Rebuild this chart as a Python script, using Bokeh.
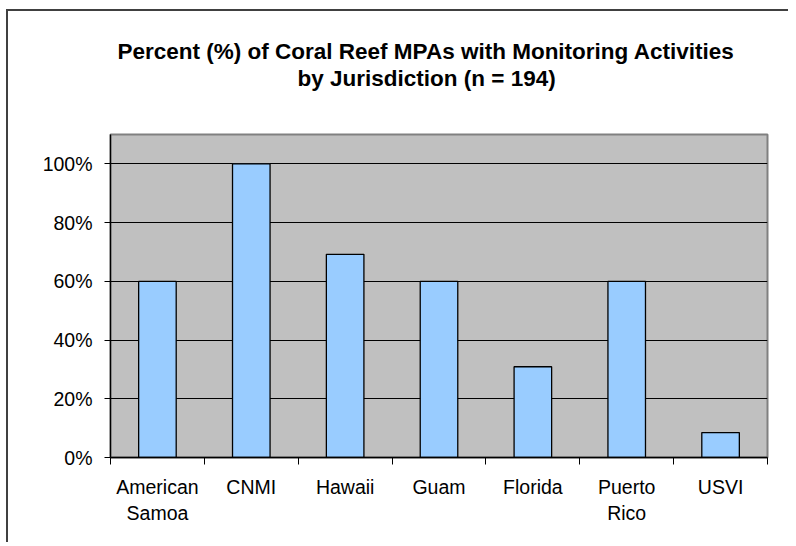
from bokeh.plotting import figure
from bokeh.models import (FixedTicker, NumeralTickFormatter, Range1d, Title, ColumnDataSource)
from bokeh.embed import file_html
from bokeh.resources import INLINE

# ---- data ----
categories = ["American\nSamoa", "CNMI", "Hawaii", "Guam", "Florida", "Puerto\nRico", "USVI"]
percent_monitored = [0.60, 1.00, 0.692, 0.60, 0.309, 0.60, 0.085]
y_ticks = [0.0, 0.2, 0.4, 0.6, 0.8, 1.0]
title_lines = ["Percent (%) of Coral Reef MPAs with Monitoring Activities",
               "by Jurisdiction (n = 194)"]

positions = [i + 1 for i in range(len(categories))]
boundaries = [i + 0.5 for i in range(len(categories) + 1)]

FONT = "Liberation Sans"

p = figure(title=None, frame_width=657, frame_height=323,
           min_border_left=102, min_border_top=123, min_border_right=21, min_border_bottom=85,
           x_range=Range1d(0.5, len(categories) + 0.5), y_range=Range1d(0, 1.10),
           output_backend="svg", toolbar_location=None, tools="")
p.styles = {"border-top": "2px solid #404040", "border-left": "2px solid #404040",
            "margin-left": "6px", "margin-top": "9px"}

p.background_fill_color = "#C0C0C0"
p.border_fill_color = "white"
p.outline_line_color = "#808080"
p.outline_line_width = 2

src = ColumnDataSource(dict(x=positions, top=percent_monitored))
p.vbar(x="x", top="top", width=0.4, bottom=0, source=src,
       fill_color="#99CCFF", line_color="black", line_width=1.3)

# x axis: labels at centres, ticks at boundaries
p.xaxis.ticker = FixedTicker(ticks=positions, minor_ticks=boundaries)
p.xaxis.major_label_overrides = {pos: lab for pos, lab in zip(positions, categories)}
p.xaxis.major_tick_line_color = None
p.xaxis.major_tick_out = 0
p.xaxis.major_tick_in = 0
p.xaxis.minor_tick_line_color = "black"
p.xaxis.minor_tick_out = 7
p.xaxis.minor_tick_in = 0
p.xaxis.axis_line_color = "black"
p.xaxis.axis_line_width = 1.3
p.xaxis.major_label_text_font = FONT
p.xaxis.major_label_text_font_size = "19.5px"
p.xaxis.major_label_text_color = "black"
p.xaxis.major_label_standoff = 11

# y axis
p.yaxis.ticker = FixedTicker(ticks=y_ticks)
p.yaxis.formatter = NumeralTickFormatter(format="0%")
p.yaxis.minor_tick_line_color = None
p.yaxis.major_tick_out = 6
p.yaxis.major_tick_in = 0
p.yaxis.major_tick_line_color = "black"
p.yaxis.axis_line_color = "black"
p.yaxis.axis_line_width = 1.3
p.yaxis.major_label_text_font = FONT
p.yaxis.major_label_text_font_size = "19.5px"
p.yaxis.major_label_text_color = "black"
p.yaxis.major_label_standoff = 12

p.xgrid.grid_line_color = None
p.ygrid.ticker = FixedTicker(ticks=y_ticks[1:])
p.ygrid.grid_line_color = "black"
p.ygrid.grid_line_width = 1.2

# title: spacer nearest the plot area, then second line, then first line
title_style = dict(text_font=FONT, text_font_style="bold", text_font_size="22.5px",
                   text_color="black", align="left")
p.add_layout(Title(text=" ", standoff=17, **title_style), "above")
p.add_layout(Title(text=title_lines[1], offset=187, standoff=0, **title_style), "above")
p.add_layout(Title(text=title_lines[0], offset=7, standoff=0, **title_style), "above")

open("out.html", "w").write(file_html(p, INLINE))
